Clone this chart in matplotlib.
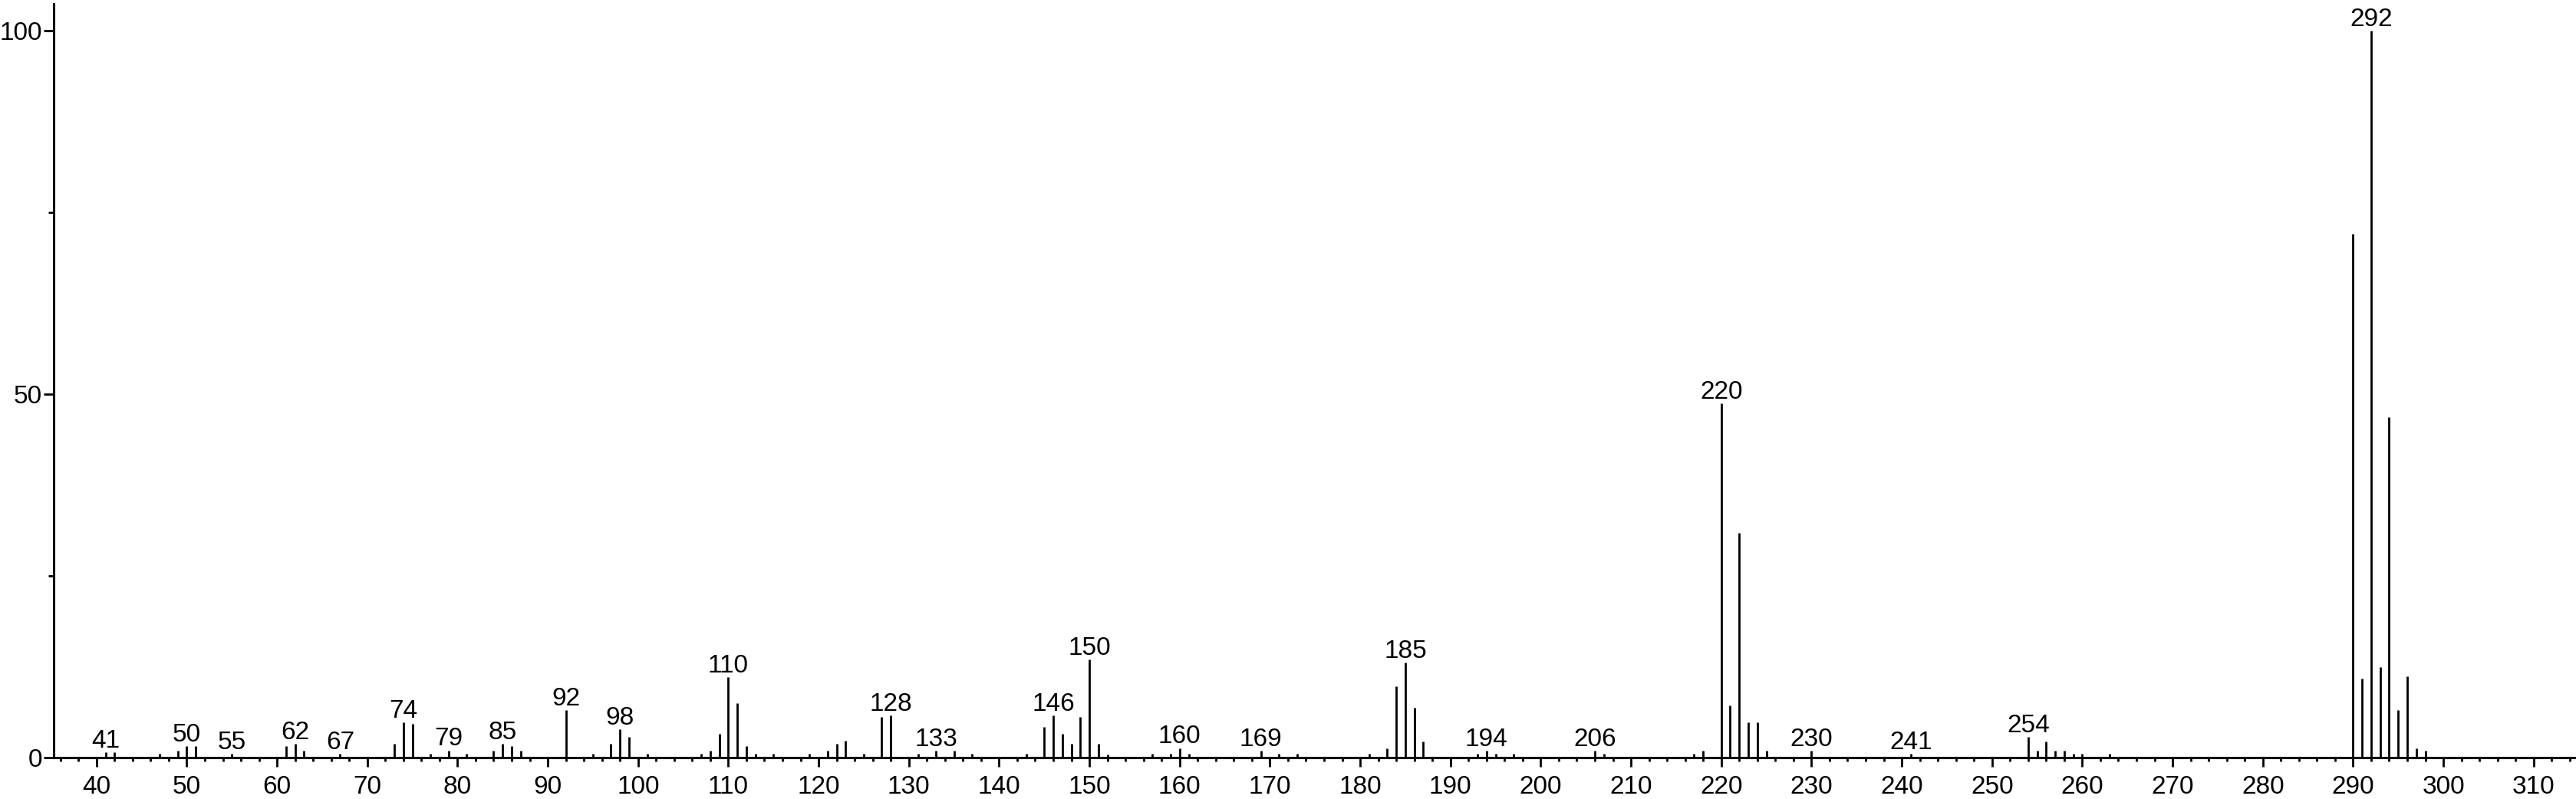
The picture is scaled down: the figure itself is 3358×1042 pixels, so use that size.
import matplotlib.pyplot as plt
from matplotlib.ticker import MultipleLocator, FixedLocator

plt.rcParams["font.family"] = ["Liberation Sans", "DejaVu Sans"]

# m/z and relative intensity (%)
mz = [41, 42, 47, 49, 50, 51, 55,
      61, 62, 63, 67,
      73, 74, 75, 77, 79,
      81, 84, 85, 86, 87,
      92, 95, 97, 98, 99,
      101, 107, 108, 109, 110, 111, 112, 113, 115, 119, 121, 122, 123, 125, 127, 128,
      131, 133, 135, 137, 143, 145, 146, 147, 148, 149, 150, 151, 152,
      157, 159, 160, 161, 169, 171, 173,
      181, 183, 184, 185, 186, 187, 193, 194, 195, 197,
      206, 207, 217, 218, 220, 221, 222, 223, 224, 225, 230, 241,
      254, 255, 256, 257, 258, 259, 260, 263,
      290, 291, 292, 293, 294, 295, 296, 297, 298]
intensity = [0.7, 0.7, 0.5, 1.0, 1.6, 1.6, 0.5,
             1.6, 1.9, 1.0, 0.5,
             1.9, 4.85, 4.6, 0.5, 1.0,
             0.5, 1.0, 1.9, 1.6, 0.9,
             6.5, 0.5, 1.9, 3.9, 2.9,
             0.5, 0.5, 1.0, 3.3, 11.1, 7.5, 1.6, 0.5, 0.5, 0.5, 0.9, 1.9, 2.3, 0.5, 5.6, 5.8,
             0.5, 0.9, 0.9, 0.5, 0.5, 4.2, 5.8, 3.3, 1.9, 5.6, 13.5, 1.9, 0.4,
             0.5, 0.5, 1.3, 0.5, 0.9, 0.5, 0.5,
             0.5, 1.3, 9.8, 13.1, 6.9, 2.2, 0.5, 0.9, 0.5, 0.5,
             0.9, 0.5, 0.5, 0.9, 48.7, 7.2, 30.9, 4.9, 4.9, 0.9, 0.9, 0.5,
             2.85, 0.9, 2.2, 0.9, 0.9, 0.5, 0.5, 0.5,
             72.1, 10.9, 100.0, 12.5, 46.8, 6.5, 11.2, 1.3, 0.95]

labelled = [41, 50, 55, 62, 67, 74, 79, 85, 92, 98, 110, 128, 133, 146, 150,
            160, 169, 185, 194, 206, 220, 230, 241, 254, 292]

W, H = 3358, 1042
fig = plt.figure(figsize=(W / 100, H / 100), dpi=100)
ax = fig.add_axes([70 / W, 54 / H, (W - 70) / W, 983 / H])

ax.vlines(mz, 0, intensity, color="black", lw=2.0)

peak = dict(zip(mz, intensity))
for m in labelled:
    ax.annotate(str(m), (m, peak[m]), xytext=(0, 4.5), textcoords="offset points",
                ha="center", va="baseline", fontsize=24)

ax.set_xlim(35.26, 314.7)
ax.set_ylim(0, 103.7)
ax.spines["top"].set_visible(False)
ax.spines["right"].set_visible(False)
for s in ("left", "bottom"):
    ax.spines[s].set_linewidth(2.2)

ax.xaxis.set_major_locator(MultipleLocator(10))
ax.xaxis.set_minor_locator(MultipleLocator(2))
ax.yaxis.set_major_locator(FixedLocator([0, 50, 100]))
ax.yaxis.set_minor_locator(FixedLocator([25, 75]))

ax.tick_params(axis="x", which="major", length=8.4, width=2, pad=8, labelsize=24)
ax.tick_params(axis="x", which="minor", length=3.8, width=2)
ax.tick_params(axis="y", which="major", length=9.4, width=2, pad=1.4, labelsize=24)
ax.tick_params(axis="y", which="minor", length=5, width=2)

fig.savefig("out.png", dpi=100)
